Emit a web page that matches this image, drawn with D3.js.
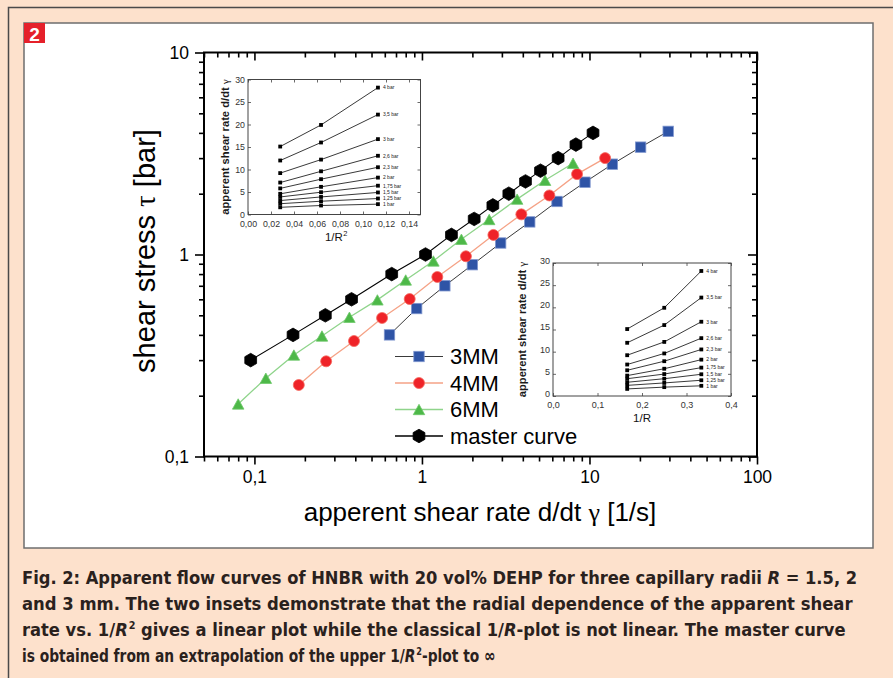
<!DOCTYPE html>
<html>
<head>
<meta charset="utf-8">
<script src="https://cdn.jsdelivr.net/npm/d3@7"></script>
<style>
  html, body { margin: 0; padding: 0; background: #fde1cc; }
  svg { display: block; }
</style>
</head>
<body>
<svg id="fig" width="893" height="678"></svg>
<script>
// ---------------- data ----------------
// Main flow curves: apparent shear rate [1/s] vs shear stress [bar]
const rate3MM   = [0.64, 0.93, 1.37, 2.0, 2.95, 4.4, 6.4, 9.4, 13.7, 20.2, 29.5];
const stress3MM = [0.40, 0.54, 0.70, 0.89, 1.14, 1.45, 1.83, 2.28, 2.80, 3.40, 4.07];

const rate4MM   = [0.184, 0.268, 0.393, 0.578, 0.845, 1.235, 1.83, 2.67, 3.92, 5.76, 8.43, 12.4];
const stress4MM = [0.226, 0.296, 0.373, 0.485, 0.602, 0.774, 0.98, 1.25, 1.58, 1.96, 2.50, 3.00];

const rate6MM   = [0.080, 0.117, 0.172, 0.253, 0.369, 0.542, 0.80, 1.17, 1.72, 2.52, 3.70, 5.43, 7.98];
const stress6MM = [0.182, 0.244, 0.318, 0.395, 0.489, 0.596, 0.748, 0.929, 1.19, 1.49, 1.88, 2.33, 2.83];

const rateMaster   = [0.095, 0.17, 0.265, 0.38, 0.66, 1.05, 1.5, 2.05, 2.65, 3.3, 4.15, 5.1, 6.5, 8.3, 10.5];
const stressMaster = [0.30, 0.40, 0.50, 0.60, 0.80, 1.0, 1.25, 1.5, 1.75, 2.0, 2.3, 2.6, 3.0, 3.5, 4.0];

const seriesNames = ["3MM", "4MM", "6MM", "master curve"];

// Main axis ticks
const xMajorTicks = [0.1, 1, 10, 100];
const yMajorTicks = [0.1, 1, 10];

// Insets: apparent shear rate vs 1/R^2 and vs 1/R for each pressure
const pressureLabels = ["1 bar", "1,25 bar", "1,5 bar", "1,75 bar", "2 bar",
                        "2,3 bar", "2,6 bar", "3 bar", "3,5 bar", "4 bar"];
const invR2 = [0.028, 0.0635, 0.113];
const invR  = [0.1667, 0.25, 0.3333];
const rateAtPressure = [
  [1.6, 2.0, 2.3],
  [2.4, 2.95, 3.55],
  [3.1, 3.9, 4.9],
  [3.9, 4.95, 6.4],
  [4.6, 6.15, 8.2],
  [5.8, 7.85, 10.5],
  [7.1, 9.6, 13.05],
  [9.2, 12.2, 16.75],
  [12.0, 16.0, 22.2],
  [15.1, 19.9, 28.2]
];
const insetYTicks  = [0, 5, 10, 15, 20, 25, 30];
const inset1XTicks = [0, 0.02, 0.04, 0.06, 0.08, 0.10, 0.12, 0.14];
const inset2XTicks = [0, 0.1, 0.2, 0.3, 0.4];

// ---------------- drawing ----------------
const svg = d3.select("#fig");
const SANS = "'Liberation Sans', Arial, sans-serif";
const SERIF = "'Liberation Serif', 'Times New Roman', serif";
const comma = s => s.replace(".", ",");

// page frame
svg.append("rect").attr("x", 0).attr("y", 0).attr("width", 893).attr("height", 678).attr("fill", "#fde1cc");
svg.append("path").attr("d", "M8.5,678 V7.5 H893").attr("fill", "none").attr("stroke", "#4a4a4a").attr("stroke-width", 1.5);
svg.append("rect").attr("x", 24).attr("y", 23).attr("width", 849).attr("height", 525)
  .attr("fill", "#fff").attr("stroke", "#6e6e6e").attr("stroke-width", 1.5);
svg.append("rect").attr("x", 24).attr("y", 23).attr("width", 21).attr("height", 20).attr("fill", "#e5202a");
svg.append("text").attr("x", 34.5).attr("y", 40.5).attr("text-anchor", "middle")
  .attr("font-family", SANS).attr("font-weight", "bold").attr("font-size", 19).attr("fill", "#fff").text("2");

// main scales
const L = 204, R = 757, T = 52.5, B = 456.5;
const x = d3.scaleLog().domain([0.05, 100]).range([L, R]);
const y = d3.scaleLog().domain([0.1, 10]).range([B, T]);

const xMinor = x.ticks().filter(v => !xMajorTicks.some(m => Math.abs(m - v) < 1e-9));
const yMinor = y.ticks().filter(v => !yMajorTicks.some(m => Math.abs(m - v) < 1e-9));
const fmtMain = d => comma(String(d));

function styleAxis(g, size) {
  g.select(".domain").remove();
  g.selectAll(".tick line").attr("stroke", "#000").attr("stroke-width", 1.6);
  g.selectAll(".tick text").attr("font-family", SANS).attr("font-size", size).attr("fill", "#000");
}

const axes = svg.append("g");
// bottom (outward ticks)
axes.append("g").attr("transform", `translate(0,${B})`)
  .call(d3.axisBottom(x).tickValues(xMajorTicks).tickFormat(fmtMain).tickSize(8).tickPadding(6))
  .call(g => styleAxis(g, 17.5));
axes.append("g").attr("transform", `translate(0,${B})`)
  .call(d3.axisBottom(x).tickValues(xMinor).tickFormat("").tickSize(5))
  .call(g => styleAxis(g, 17.5));
// top (inward ticks)
axes.append("g").attr("transform", `translate(0,${T})`)
  .call(d3.axisTop(x).tickValues(xMajorTicks).tickFormat("").tickSize(-8))
  .call(g => styleAxis(g, 17.5));
axes.append("g").attr("transform", `translate(0,${T})`)
  .call(d3.axisTop(x).tickValues(xMinor).tickFormat("").tickSize(-5))
  .call(g => styleAxis(g, 17.5));
// left (outward ticks)
axes.append("g").attr("transform", `translate(${L},0)`)
  .call(d3.axisLeft(y).tickValues(yMajorTicks).tickFormat(fmtMain).tickSize(9).tickPadding(6))
  .call(g => styleAxis(g, 17.5));
axes.append("g").attr("transform", `translate(${L},0)`)
  .call(d3.axisLeft(y).tickValues(yMinor).tickFormat("").tickSize(5))
  .call(g => styleAxis(g, 17.5));
// right (inward ticks)
axes.append("g").attr("transform", `translate(${R},0)`)
  .call(d3.axisRight(y).tickValues(yMajorTicks).tickFormat("").tickSize(-9))
  .call(g => styleAxis(g, 17.5));
axes.append("g").attr("transform", `translate(${R},0)`)
  .call(d3.axisRight(y).tickValues(yMinor).tickFormat("").tickSize(-5))
  .call(g => styleAxis(g, 17.5));
// plot frame
svg.append("rect").attr("x", L).attr("y", T).attr("width", R - L).attr("height", B - T)
  .attr("fill", "none").attr("stroke", "#000").attr("stroke-width", 2);

// axis titles
svg.append("text").attr("x", 480).attr("y", 521).attr("text-anchor", "middle")
  .attr("font-family", SANS).attr("font-size", 26).attr("fill", "#000")
  .call(t => {
    t.append("tspan").text("apperent shear rate d/dt ");
    t.append("tspan").attr("font-family", SERIF).text("γ");
    t.append("tspan").text(" [1/s]");
  });
svg.append("text").attr("transform", "translate(155,251) rotate(-90)").attr("text-anchor", "middle")
  .attr("font-family", SANS).attr("font-size", 29).attr("fill", "#000")
  .call(t => {
    t.append("tspan").text("shear stress ");
    t.append("tspan").attr("font-family", SERIF).text("τ");
    t.append("tspan").text(" [bar]");
  });

// ---------------- insets ----------------
function drawInset(cfg) {
  const g = svg.append("g");
  const xs = d3.scaleLinear().domain(cfg.xDomain).range([cfg.x0, cfg.x1]);
  const ys = d3.scaleLinear().domain([0, 30]).range([cfg.y1, cfg.y0]);
  g.append("rect").attr("x", cfg.x0).attr("y", cfg.y0).attr("width", cfg.x1 - cfg.x0).attr("height", cfg.y1 - cfg.y0)
    .attr("fill", "#fff").attr("stroke", "#444").attr("stroke-width", 1);
  const st = (a, s) => {
    a.select(".domain").remove();
    a.selectAll(".tick line").attr("stroke", "#444").attr("stroke-width", 0.8);
    a.selectAll(".tick text").attr("font-family", SANS).attr("font-size", s).attr("fill", "#333");
  };
  g.append("g").attr("transform", `translate(0,${cfg.y1})`)
    .call(d3.axisBottom(xs).tickValues(cfg.xTicks).tickFormat(cfg.xFmt).tickSize(-3).tickPadding(cfg.xPad))
    .call(a => st(a, cfg.tickFont));
  g.append("g").attr("transform", `translate(0,${cfg.y0})`)
    .call(d3.axisTop(xs).tickValues(cfg.xTicks).tickFormat("").tickSize(-3))
    .call(a => st(a, cfg.tickFont));
  g.append("g").attr("transform", `translate(${cfg.x0},0)`)
    .call(d3.axisLeft(ys).tickValues(insetYTicks).tickFormat(d => String(d)).tickSize(-3).tickPadding(3))
    .call(a => st(a, cfg.tickFont))
    .call(a => a.selectAll(".tick text").attr("dy", cfg.yDy));
  g.append("g").attr("transform", `translate(${cfg.x1},0)`)
    .call(d3.axisRight(ys).tickValues(insetYTicks).tickFormat("").tickSize(-3))
    .call(a => st(a, cfg.tickFont));

  const line = d3.line().x((d, i) => xs(cfg.xVals[i])).y(d => ys(d));
  rateAtPressure.forEach((row, k) => {
    g.append("path").attr("d", line(row)).attr("fill", "none").attr("stroke", "#222").attr("stroke-width", 0.9);
    g.selectAll(null).data(row).enter().append("rect")
      .attr("x", (d, i) => xs(cfg.xVals[i]) - 1.9).attr("y", d => ys(d) - 1.9)
      .attr("width", 3.8).attr("height", 3.8).attr("fill", "#000");
    g.append("text").attr("x", xs(cfg.xVals[2]) + 5).attr("y", ys(row[2]) + 1.8)
      .attr("font-family", SANS).attr("font-size", 5).attr("fill", "#222").text(pressureLabels[k]);
  });
  // axis titles
  g.append("text").attr("transform", `translate(${cfg.yTitleX},${(cfg.y0 + cfg.y1) / 2}) rotate(-90)`)
    .attr("text-anchor", "middle").attr("font-family", SANS).attr("font-size", 11.2).attr("font-weight", "bold")
    .attr("fill", "#1a1a1a")
    .call(t => {
      t.append("tspan").text("apperent shear rate d/dt ");
      t.append("tspan").attr("font-family", SERIF).attr("font-weight", "normal").text("γ");
    });
  const xt = g.append("text").attr("x", (cfg.x0 + cfg.x1) / 2 + cfg.xTitleDx).attr("y", cfg.xTitleY).attr("text-anchor", "middle")
    .attr("font-family", SANS).attr("font-size", 11.5).attr("fill", "#111");
  xt.append("tspan").text(cfg.xTitle);
  if (cfg.xTitleSup) xt.append("tspan").attr("font-size", 7.5).attr("dx", 0.5).attr("dy", -5).text(cfg.xTitleSup);
}

drawInset({
  x0: 248, x1: 420.5, y0: 79.5, y1: 214.5,
  xDomain: [0, 0.15], xTicks: inset1XTicks, xFmt: d => comma(d.toFixed(2)), xPad: 6.5, yDy: "0.32em",
  xVals: invR2, tickFont: 8.8, yTitleX: 229, xTitle: "1/R", xTitleSup: "2", xTitleY: 241, xTitleDx: 2
});
drawInset({
  x0: 553, x1: 731, y0: 263, y1: 396,
  xDomain: [0, 0.4], xTicks: inset2XTicks, xFmt: d => comma(d.toFixed(1)), xPad: 5.5, yDy: "0.05em",
  xVals: invR, tickFont: 9, yTitleX: 526, xTitle: "1/R", xTitleSup: null, xTitleY: 421.5, xTitleDx: 0
});

// ---------------- main series ----------------
const plot = svg.append("g");
function tri(s) { const h = s * 0.9; return `M0,${-h / 2}L${s / 2},${h / 2}L${-s / 2},${h / 2}Z`; }
function hex(r) {
  return d3.range(6).map(i => { const a = Math.PI / 180 * (60 * i - 90); return [r * Math.cos(a), r * Math.sin(a)]; })
    .map((p, i) => (i ? "L" : "M") + p[0].toFixed(2) + "," + p[1].toFixed(2)).join("") + "Z";
}
const series = [
  { name: seriesNames[0], xs: rate3MM, ys: stress3MM, line: "#3a3a3a", lw: 1, fill: "#2f54a6", stroke: "#7f96cf", shape: "square" },
  { name: seriesNames[1], xs: rate4MM, ys: stress4MM, line: "#f5a286", lw: 1.3, fill: "#ef2328", stroke: "#f56a60", shape: "circle" },
  { name: seriesNames[2], xs: rate6MM, ys: stress6MM, line: "#8fd48b", lw: 1.3, fill: "#4db848", stroke: "#6cc868", shape: "triangle" },
  { name: seriesNames[3], xs: rateMaster, ys: stressMaster, line: "#000", lw: 1.1, fill: "#000", stroke: "#000", shape: "hexagon" }
];
function marker(sel, s) {
  if (s.shape === "square") sel.append("rect").attr("x", -5.2).attr("y", -5.2).attr("width", 10.4).attr("height", 10.4);
  else if (s.shape === "circle") sel.append("circle").attr("r", 5.5);
  else if (s.shape === "triangle") sel.append("path").attr("d", tri(11.5));
  else sel.append("path").attr("d", hex(6.8));
  sel.selectAll("*").attr("fill", s.fill).attr("stroke", s.stroke).attr("stroke-width", 0.8);
}
series.forEach(s => {
  const pts = s.xs.map((v, i) => [x(v), y(s.ys[i])]);
  plot.append("path").attr("d", d3.line()(pts)).attr("fill", "none").attr("stroke", s.line).attr("stroke-width", s.lw);
  pts.forEach(p => plot.append("g").attr("transform", `translate(${p[0]},${p[1]})`).call(marker, s));
});

// legend
const leg = svg.append("g");
series.forEach((s, i) => {
  const cy = 356.5 + i * 26.5;
  leg.append("line").attr("x1", 395).attr("x2", 443).attr("y1", cy).attr("y2", cy)
    .attr("stroke", s.line).attr("stroke-width", s.lw + 0.2);
  leg.append("g").attr("transform", `translate(419,${cy})`).call(marker, s);
  leg.append("text").attr("x", 450).attr("y", cy + 7.8).attr("font-family", SANS).attr("font-size", 22)
    .attr("fill", "#000").text(s.name);
});

// ---------------- caption ----------------
// Each line is set at its natural width, then squeezed horizontally to its column width.
const CAP = "'Liberation Sans Narrow', 'DejaVu Sans Condensed', 'Open Sans', sans-serif";
const capLines = [
  { y: 584, w: 836, parts: [["Fig. 2: Apparent flow curves of HNBR with 20 vol% DEHP for three capillary radii "], ["R", "i"], [" = 1.5, 2"]] },
  { y: 610, w: 831, parts: [["and 3 mm. The two insets demonstrate that the radial dependence of the apparent shear"]] },
  { y: 636, w: 823, parts: [["rate vs. 1/"], ["R", "i"], ["2", "s"], [" gives a linear plot while the classical 1/", "b"], ["R", "i"], ["-plot is not linear. The master curve"]] },
  { y: 662, w: 473, parts: [["is obtained from an extrapolation of the upper 1/"], ["R", "i"], ["2", "s"], ["-plot to ∞", "b"]] }
];
capLines.forEach(ln => {
  const t = svg.append("text").attr("x", 0).attr("y", 0).attr("font-family", CAP).attr("font-weight", "bold")
    .attr("font-size", 18.5).attr("fill", "#2a211d");
  ln.parts.forEach(p => {
    const sp = t.append("tspan").text(p[0]);
    if (p[1] === "i") sp.attr("font-style", "italic");
    if (p[1] === "s") sp.attr("font-size", 11).attr("dx", 1).attr("dy", -7);  // superscript
    if (p[1] === "b") sp.attr("dy", 7);                                        // back to baseline
  });
  const natural = t.node().getComputedTextLength();
  t.attr("transform", `translate(22,${ln.y}) scale(${(ln.w / natural).toFixed(4)},1)`);
});
</script>
</body>
</html>
